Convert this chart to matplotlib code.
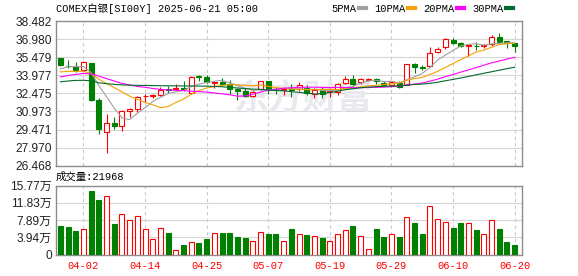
import matplotlib

matplotlib.use("Agg")
import matplotlib.pyplot as plt
import numpy as np
import pandas as pd

plt.rcParams["font.family"] = ["Liberation Sans", "Noto Sans CJK SC"]
MONO = ["Liberation Mono", "Noto Sans CJK SC"]

# --- data --------------------------------------------------------------------
dates = [
    "03-28", "03-31", "04-01", "04-02", "04-03", "04-04", "04-07", "04-08",
    "04-09", "04-10", "04-11", "04-14", "04-15", "04-16", "04-17", "04-21",
    "04-22", "04-23", "04-24", "04-25", "04-28", "04-29", "04-30", "05-01",
    "05-02", "05-05", "05-06", "05-07", "05-08", "05-09", "05-12", "05-13",
    "05-14", "05-15", "05-16", "05-19", "05-20", "05-21", "05-22", "05-23",
    "05-26", "05-27", "05-28", "05-29", "05-30", "06-02", "06-03", "06-04",
    "06-05", "06-06", "06-09", "06-10", "06-11", "06-12", "06-13", "06-16",
    "06-17", "06-18", "06-19", "06-20",
]
shown_dates = ["04-02", "04-14", "04-25", "05-07", "05-19", "05-29", "06-10", "06-20"]

opens = [
    35.37, 34.78, 34.70, 34.45, 35.01, 31.96, 29.26, 30.04, 29.76, 31.04,
    31.18, 32.23, 32.23, 32.32, 32.82, 32.84, 32.96, 32.54, 33.90, 33.87,
    33.37, 33.40, 33.29, 32.84, 32.68, 32.26, 32.84, 33.48, 32.87, 32.76,
    32.82, 32.87, 32.95, 32.40, 32.84, 32.59, 32.56, 33.37, 33.64, 33.42,
    33.59, 33.65, 33.34, 33.20, 33.34, 33.20, 34.95, 34.64, 34.73, 35.87,
    36.29, 36.90, 36.67, 36.40, 36.42, 36.40, 36.54, 37.18, 36.82, 36.62,
]
highs = [
    35.45, 35.23, 35.04, 35.15, 35.01, 32.09, 30.73, 30.51, 31.07, 31.26,
    32.26, 32.43, 32.43, 33.04, 33.07, 33.23, 33.48, 33.95, 33.98, 34.04,
    33.54, 33.76, 33.57, 32.93, 32.93, 32.68, 33.54, 33.48, 33.01, 32.95,
    33.23, 33.45, 33.17, 32.90, 33.00, 32.90, 33.31, 33.92, 33.98, 33.78,
    33.78, 33.75, 33.48, 33.48, 33.48, 34.95, 34.98, 34.80, 36.34, 36.34,
    37.09, 37.04, 36.76, 36.50, 36.76, 36.57, 37.32, 37.46, 36.82, 36.62,
]
lows = [
    34.73, 34.56, 34.26, 34.34, 31.82, 29.12, 27.51, 29.54, 29.31, 30.51,
    30.93, 31.73, 32.12, 32.23, 32.54, 32.73, 32.68, 32.45, 33.48, 33.34,
    32.96, 33.09, 32.40, 31.95, 32.18, 32.18, 32.73, 32.45, 32.45, 32.34,
    32.20, 32.65, 32.34, 32.06, 32.06, 32.20, 32.34, 33.28, 33.09, 33.28,
    33.51, 33.29, 33.09, 33.01, 32.92, 33.15, 34.20, 34.40, 34.67, 35.79,
    36.15, 36.54, 36.29, 35.59, 36.09, 36.20, 36.43, 36.57, 36.26, 35.92,
]
closes = [
    34.87, 34.72, 34.40, 35.04, 31.96, 29.51, 30.04, 29.73, 30.98, 31.18,
    32.20, 32.29, 32.32, 32.73, 32.73, 32.96, 32.84, 33.87, 33.82, 33.43,
    33.43, 33.23, 32.87, 32.68, 32.26, 32.59, 33.48, 32.79, 32.73, 32.84,
    32.78, 33.14, 32.51, 32.76, 32.40, 32.65, 33.23, 33.70, 33.28, 33.70,
    33.64, 33.48, 33.15, 33.43, 33.01, 34.95, 34.70, 34.60, 35.79, 36.17,
    36.98, 36.67, 36.43, 36.45, 36.38, 36.45, 37.18, 36.71, 36.62, 36.40,
]
# volume in units of 万 (10k)
volume_wan = [
    6.60, 6.37, 5.31, 5.90, 14.56, 12.36, 13.40, 7.05, 9.30, 7.80,
    8.87, 5.90, 3.64, 6.14, 5.00, 1.14, 2.27, 2.96, 2.73, 3.49,
    4.93, 5.00, 5.00, 4.09, 3.87, 3.18, 5.16, 4.78, 4.78, 3.18,
    5.90, 4.70, 4.55, 4.32, 3.87, 3.18, 4.70, 5.69, 6.60, 4.32,
    1.36, 5.90, 4.09, 4.70, 4.09, 8.57, 7.28, 4.78, 11.07, 8.11,
    7.50, 6.14, 7.28, 7.20, 5.69, 4.70, 7.88, 5.90, 2.96, 2.20,
]
last_volume = 21968

# MA values before each window is full (history is off-screen)
ma_head = {
    5: [34.50, 34.68, 34.70, 34.70],
    10: [34.26, 34.30, 34.30, 34.32, 34.10, 33.65, 33.30, 32.95, 32.60],
    20: [33.84, 33.95, 34.05, 34.12, 34.10, 33.90, 33.70, 33.50, 33.30, 33.18,
         33.05, 32.98, 32.88, 32.80, 32.76, 32.73, 32.70, 32.65, 32.62],
    30: [33.43, 33.50, 33.55, 33.56, 33.52, 33.35, 33.28, 33.22, 33.18, 33.15,
         33.14, 33.13, 33.12, 33.11, 33.10, 33.10, 33.09, 33.09, 33.08, 33.07,
         33.05, 33.02, 32.97, 32.92, 32.87, 32.83, 32.80, 32.76, 32.72],
}
ma_colors = {5: "#a0a0a0", 10: "#f5a000", 20: "#ff00ff", 30: "#006a30"}

price_ticks = [26.468, 27.970, 29.471, 30.973, 32.475, 33.977, 35.479, 36.980, 38.482]
vol_ticks = [0, 39425, 78850, 118275, 157700]
vol_tick_labels = ["0", "3.94万", "7.89万", "11.83万", "15.77万"]

RED = "#ff0000"
GREEN = "#008000"
GRID = "#d6d6d6"
SPINE = "#8c8c8c"
LW = 0.8

# --- figure ------------------------------------------------------------------
W, H = 578, 276
fig = plt.figure(figsize=(W / 100, H / 100), dpi=100)
ax = fig.add_axes([56 / W, 1 - 165.7 / H, 466 / W, 144.7 / H])
axv = fig.add_axes([56 / W, 1 - 254.5 / H, 466 / W, 69 / H])

x = np.arange(len(dates))
o = np.array(opens)
c = np.array(closes)
up = c > o
colors = np.where(up, RED, GREEN)
body_w = 0.65

# wicks then bodies (red bodies hollow)
ax.vlines(x, lows, highs, colors=colors, linewidth=LW, zorder=3)
body_low = np.minimum(o, c)
body_h = np.maximum(np.abs(c - o), 0.02)
ax.bar(x, body_h, bottom=body_low, width=body_w,
       color=np.where(up, "white", GREEN), edgecolor=colors,
       linewidth=LW, zorder=4)

# moving averages
close_s = pd.Series(closes)
for n in (5, 10, 20, 30):
    ma = close_s.rolling(n).mean().to_numpy()
    ma[: n - 1] = ma_head[n]
    ax.plot(x, ma, color=ma_colors[n], linewidth=LW, zorder=5, label=f"{n}PMA")

# watermark
ax.text(0.53, 0.47, "东方财富", transform=ax.transAxes, ha="center", va="center",
        fontsize=25, fontweight="bold", color="#e8e8ee",
        family=["Noto Sans CJK SC"], zorder=1)

# volume
axv.bar(x, np.array(volume_wan) * 10000, width=body_w,
        color=np.where(up, "white", GREEN), edgecolor=colors, linewidth=LW, zorder=3)

# axes styling
xlim = (-0.56, len(dates) - 0.04)
tick_idx = [dates.index(d) for d in shown_dates]
for a in (ax, axv):
    a.set_xlim(*xlim)
    a.set_xticks(tick_idx)
    a.grid(True, axis="y", color=GRID, linewidth=LW, linestyle="-", zorder=0)
    a.grid(True, axis="x", color="#c8c8c8", linewidth=LW, linestyle=(0, (3, 3)), zorder=0)
    a.set_axisbelow(True)
    for s in a.spines.values():
        s.set_color(SPINE)
        s.set_linewidth(1.0)
    a.tick_params(length=0, labelsize=8.6, labelcolor="#222222", pad=3)

ax.set_ylim(price_ticks[0], price_ticks[-1])
ax.set_yticks(price_ticks)
ax.set_yticklabels([f"{v:.3f}" for v in price_ticks])
ax.set_xticklabels([])

axv.set_ylim(0, vol_ticks[-1])
axv.set_yticks(vol_ticks)
axv.set_yticklabels(vol_tick_labels)
axv.set_xticklabels(shown_dates, color=RED, family=MONO, fontsize=7.5)
axv.tick_params(axis="x", pad=5)

# header texts
fig.text(56 / W, 1 - 9 / H, "COMEX白银[SI00Y] 2025-06-21 05:00", ha="left", va="center",
         fontsize=7.5, family=MONO, color="#000000")
fig.text(56 / W, 1 - 177 / H, f"成交量:{last_volume}", ha="left", va="center",
         fontsize=7.5, family=MONO, color="#000000")

leg = ax.legend(loc="center right", bbox_to_anchor=(513 / W, 1 - 9 / H),
                bbox_transform=fig.transFigure, ncol=4, frameon=False,
                markerfirst=False, handlelength=0.7, handletextpad=0.2,
                columnspacing=0.8, borderpad=0, borderaxespad=0,
                prop={"family": MONO, "size": 7.5})
for h in leg.legend_handles:
    h.set_linewidth(3)

fig.savefig("out.png", dpi=100)
